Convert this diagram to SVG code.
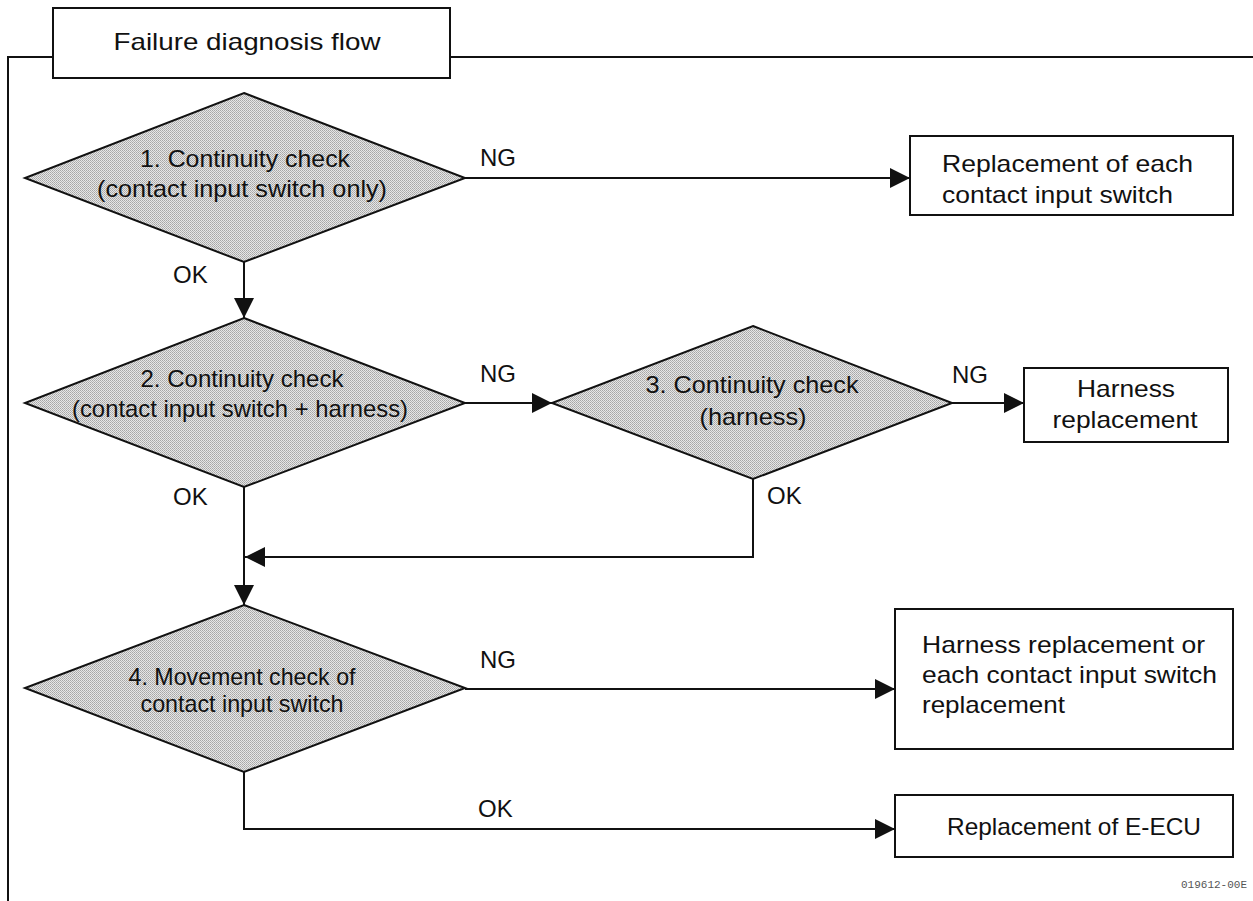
<svg xmlns="http://www.w3.org/2000/svg" width="1253" height="901" viewBox="0 0 1253 901">
<style>
.t{font-family:"Liberation Sans",Arial,Helvetica,sans-serif;font-size:24px;fill:#111}
.m{text-anchor:middle}
.dia{fill:url(#dots);stroke:#111;stroke-width:2}
.box{fill:#fff;stroke:#111;stroke-width:2}
.ln{fill:none;stroke:#111;stroke-width:2}
.wm{font-family:"Liberation Mono","DejaVu Sans Mono",monospace;font-size:11px;fill:#555}
</style>
<defs>
<pattern id="dots" patternUnits="userSpaceOnUse" x="0" y="0" width="2" height="2">
<rect x="0" y="0" width="2" height="2" fill="#e6e6e6"/>
<rect x="0" y="0" width="1" height="1" fill="#a6a6a6"/>
<rect x="1" y="1" width="1" height="1" fill="#b4b4b4"/>
</pattern>
<marker id="ah" markerUnits="userSpaceOnUse" markerWidth="20" markerHeight="20" refX="20" refY="10" orient="auto">
<path d="M0,0 L20,10 L0,20 Z" fill="#111"/>
</marker>
</defs>
<rect x="0" y="0" width="1253" height="901" fill="#fff"/>
<g id="frame">
<path class="ln" d="M53,57 H8 V901 M450,57 H1253"/>
</g>
<g id="title">
<rect class="box" x="53" y="8" width="397" height="70"/>
<text class="t m" x="247" y="50" textLength="267" lengthAdjust="spacingAndGlyphs">Failure diagnosis flow</text>
</g>
<g id="connectors">
<path class="ln" d="M465,178 H910" marker-end="url(#ah)"/>
<path class="ln" d="M244,262 V318" marker-end="url(#ah)"/>
<path class="ln" d="M465,403 H552" marker-end="url(#ah)"/>
<path class="ln" d="M952,403 H1024" marker-end="url(#ah)"/>
<path class="ln" d="M244,487 V605" marker-end="url(#ah)"/>
<path class="ln" d="M753,479 V557 H245" marker-end="url(#ah)"/>
<path class="ln" d="M465,689 H895" marker-end="url(#ah)"/>
<path class="ln" d="M244,772 V829 H895" marker-end="url(#ah)"/>
<text class="t" x="480" y="166">NG</text>
<text class="t" x="173" y="283">OK</text>
<text class="t" x="480" y="382">NG</text>
<text class="t" x="952" y="383">NG</text>
<text class="t" x="173" y="505">OK</text>
<text class="t" x="767" y="504">OK</text>
<text class="t" x="480" y="668">NG</text>
<text class="t" x="478" y="817">OK</text>
</g>
<g id="d1">
<polygon class="dia" points="244,93 465,178 244,262 25,178"/>
<text class="t m" x="245" y="167" textLength="210" lengthAdjust="spacingAndGlyphs">1. Continuity check</text>
<text class="t m" x="242" y="197" textLength="290" lengthAdjust="spacingAndGlyphs">(contact input switch only)</text>
</g>
<g id="d2">
<polygon class="dia" points="244,318 465,403 244,487 25,403"/>
<text class="t m" x="242" y="387" textLength="203" lengthAdjust="spacingAndGlyphs">2. Continuity check</text>
<text class="t m" x="240" y="417" textLength="336" lengthAdjust="spacingAndGlyphs">(contact input switch + harness)</text>
</g>
<g id="d3">
<polygon class="dia" points="753,326 952,403 753,479 552,403"/>
<text class="t m" x="752" y="393" textLength="213" lengthAdjust="spacingAndGlyphs">3. Continuity check</text>
<text class="t m" x="753" y="425" textLength="107" lengthAdjust="spacingAndGlyphs">(harness)</text>
</g>
<g id="d4">
<polygon class="dia" points="244,605 465,688 244,772 25,688"/>
<text class="t m" x="242" y="685" textLength="227" lengthAdjust="spacingAndGlyphs">4. Movement check of</text>
<text class="t m" x="242" y="712" textLength="203" lengthAdjust="spacingAndGlyphs">contact input switch</text>
</g>
<g id="b1">
<rect class="box" x="910" y="136" width="323" height="79"/>
<text class="t" x="942" y="172" textLength="251" lengthAdjust="spacingAndGlyphs">Replacement of each</text>
<text class="t" x="942" y="203" textLength="231" lengthAdjust="spacingAndGlyphs">contact input switch</text>
</g>
<g id="b2">
<rect class="box" x="1024" y="368" width="204" height="74"/>
<text class="t m" x="1126" y="397" textLength="98" lengthAdjust="spacingAndGlyphs">Harness</text>
<text class="t m" x="1125" y="428" textLength="145" lengthAdjust="spacingAndGlyphs">replacement</text>
</g>
<g id="b3">
<rect class="box" x="895" y="609" width="338" height="140"/>
<text class="t" x="922" y="653" textLength="283" lengthAdjust="spacingAndGlyphs">Harness replacement or</text>
<text class="t" x="922" y="683" textLength="295" lengthAdjust="spacingAndGlyphs">each contact input switch</text>
<text class="t" x="922" y="713" textLength="143" lengthAdjust="spacingAndGlyphs">replacement</text>
</g>
<g id="b4">
<rect class="box" x="895" y="795" width="338" height="62"/>
<text class="t m" x="1074" y="835" textLength="254" lengthAdjust="spacingAndGlyphs">Replacement of E-ECU</text>
</g>
<text class="wm" x="1247" y="888" text-anchor="end">019612-00E</text>
</svg>
